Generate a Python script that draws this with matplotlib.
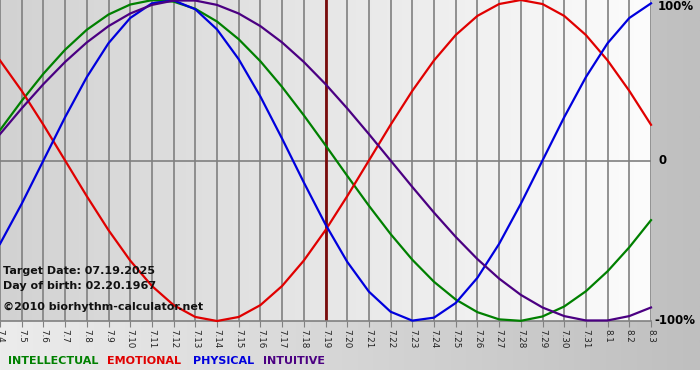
import numpy as np
import matplotlib
matplotlib.use("Agg")
import matplotlib.pyplot as plt
from matplotlib.colors import LinearSegmentedColormap

# day labels (7.4 .. 8.3)
dates = ['7.4', '7.5', '7.6', '7.7', '7.8', '7.9', '7.10', '7.11', '7.12', '7.13',
         '7.14', '7.15', '7.16', '7.17', '7.18', '7.19', '7.20', '7.21', '7.22',
         '7.23', '7.24', '7.25', '7.26', '7.27', '7.28', '7.29', '7.30', '7.31',
         '8.1', '8.2', '8.3']
target_idx = 15

intellectual = [0.1893, 0.3717, 0.5406, 0.6901, 0.8146, 0.9096, 0.9718, 0.9989,
                0.9898, 0.9450, 0.8660, 0.7557, 0.6182, 0.4582, 0.2817, 0.0951,
                -0.0951, -0.2817, -0.4582, -0.6182, -0.7557, -0.8660, -0.9450,
                -0.9898, -0.9989, -0.9718, -0.9096, -0.8146, -0.6901, -0.5406, -0.3717]
emotional = [0.6235, 0.4339, 0.2225, 0.0, -0.2225, -0.4339, -0.6235, -0.7818,
             -0.9010, -0.9749, -1.0, -0.9749, -0.9010, -0.7818, -0.6235, -0.4339,
             -0.2225, 0.0, 0.2225, 0.4339, 0.6235, 0.7818, 0.9010, 0.9749, 1.0,
             0.9749, 0.9010, 0.7818, 0.6235, 0.4339, 0.2225]
physical = [-0.5196, -0.2698, 0.0, 0.2698, 0.5196, 0.7308, 0.8879, 0.9791, 0.9977,
            0.9423, 0.8170, 0.6311, 0.3984, 0.1362, -0.1362, -0.3984, -0.6311,
            -0.8170, -0.9423, -0.9977, -0.9791, -0.8879, -0.7308, -0.5196, -0.2698,
            0.0, 0.2698, 0.5196, 0.7308, 0.8879, 0.9791]
intuitive = [0.1646, 0.3247, 0.4759, 0.6142, 0.7357, 0.8372, 0.9158, 0.9694, 0.9966,
             0.9966, 0.9694, 0.9158, 0.8372, 0.7357, 0.6142, 0.4759, 0.3247, 0.1646,
             0.0, -0.1646, -0.3247, -0.4759, -0.6142, -0.7357, -0.8372, -0.9158,
             -0.9694, -0.9966, -0.9966, -0.9694, -0.9158]

names = ['INTELLECTUAL', 'EMOTIONAL', 'PHYSICAL', 'INTUITIVE']
colors = ['#008000', '#e00000', '#0000dd', '#4b0082']

fig = plt.figure(figsize=(7, 3.8), dpi=100, facecolor='white')

# gray gradient background behind everything
bg = fig.add_axes([0, 10 / 380, 1, 370 / 380], zorder=-1)
bg_cmap = LinearSegmentedColormap.from_list('bg', ['#ececec', '#bfbfbf'])
bg.imshow(np.linspace(0, 1, 256).reshape(1, -1), cmap=bg_cmap, aspect='auto',
          extent=(0, 1, 0, 1))
bg.axis('off')

# main plot area
ax = fig.add_axes([0, 59 / 380, 651 / 700, 321 / 380])
x = np.arange(len(dates))
ax.set_xlim(0, len(dates) - 1)
ax.set_ylim(-1, 1)

plot_cmap = LinearSegmentedColormap.from_list('pl', ['#d2d2d2', '#fcfcfc'])
ax.imshow(np.linspace(0, 1, 256).reshape(1, -1), cmap=plot_cmap, aspect='auto',
          extent=(0, len(dates) - 1, -1, 1), zorder=0)

for xi in x:
    ax.axvline(xi, color='#808080', lw=1.2, zorder=1)
ax.axhline(0, color='#808080', lw=1.2, zorder=1)

ax.axvline(target_idx, color='#7a0c0c', lw=2, zorder=2)

for series, c in zip([intellectual, emotional, physical, intuitive], colors):
    ax.plot(x, series, color=c, lw=1.6, zorder=3, clip_on=False)

for s in ['top', 'left', 'right']:
    ax.spines[s].set_visible(False)
ax.spines['bottom'].set_color('#808080')
ax.spines['bottom'].set_linewidth(1.2)

ax.set_xticks(x)
ax.set_xticklabels(dates, rotation=-90, fontsize=6.3, color='#222222')
ax.tick_params(axis='x', length=4, color='#808080', pad=2)
ax.set_yticks([])

# right side percentage labels
tr = ax.get_yaxis_transform()
ax.text(1.011, 1.0, '100%', transform=tr, ha='left', va='top',
        fontsize=8.5, fontweight='bold')
ax.text(1.011, 0.0, '0', transform=tr, ha='left', va='center',
        fontsize=8.5, fontweight='bold')
ax.text(1.005, -1.0, '-100%', transform=tr, ha='left', va='center',
        fontsize=8.5, fontweight='bold')

# info text
info = ['Target Date: 07.19.2025', 'Day of birth: 02.20.1967',
        '\u00a92010 biorhythm-calculator.net']
info_y = [0.156, 0.109, 0.044]
for t, ty in zip(info, info_y):
    ax.text(3 / 651, ty, t, transform=ax.transAxes, fontsize=8,
            fontweight='bold', va='center', color='#111111', zorder=4)

# colored legend words
leg_x = [8, 107, 193, 263]
for name, c, lx in zip(names, colors, leg_x):
    fig.text(lx / 700, 1 - 361 / 380, name, color=c, fontsize=8,
             fontweight='bold', va='center')

fig.savefig('out.png', dpi=100)
